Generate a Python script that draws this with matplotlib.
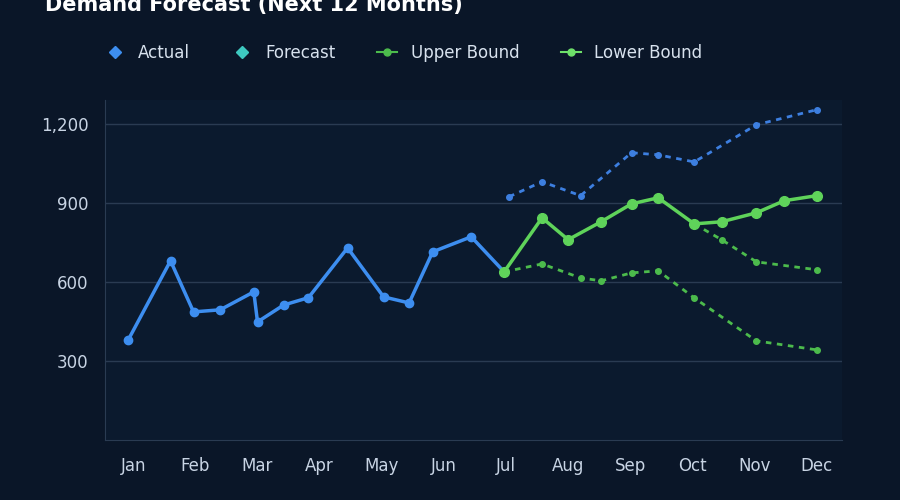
import matplotlib.pyplot as plt

months = ["Jan","Feb","Mar","Apr","May","Jun","Jul","Aug","Sep","Oct","Nov","Dec"]
act_x = [-0.08,0.6,0.97,1.4,1.94,2.0,2.42,2.82,3.45,4.03,4.44,4.82,5.44,5.97]
act_y = [380,680,486,494,562,448,512,540,729,543,520,714,771,638]
fc_x = [5.97,6.58,7.0,7.53,8.02,8.45,9.03,9.47,10.03,10.48,11.0]
fc_y = [638,843,760,828,896,919,820,828,862,908,927]
up_x = [6.05,6.58,7.2,8.02,8.45,9.03,10.03,11.0]
up_y = [923,980,927,1090,1082,1055,1196,1253]
lo_x = [5.97,6.58,7.2,7.53,8.02,8.45,9.03,10.03,11.0]
lo_y = [638,668,615,604,634,642,539,376,342]
lo2_x = [9.03,9.47,10.03,11.0]
lo2_y = [820,760,676,646]

bg = "#0b1a2e"
fig = plt.figure(figsize=(9,5), dpi=100, facecolor="#08111f")
ax = fig.add_axes([0.117,0.12,0.818,0.68], facecolor=bg)
fig.patch.set_facecolor("#0a1628")
ax.plot(act_x, act_y, color="#3d8ef0", lw=2.5, marker="o", ms=6)
ax.plot(up_x, up_y, color="#3d7fe0", lw=2, ls=(0,(2,2)), marker="o", ms=4)
ax.plot(lo_x, lo_y, color="#4cbb4c", lw=2, ls=(0,(2,2)), marker="o", ms=4)
ax.plot(lo2_x, lo2_y, color="#4cbb4c", lw=2, ls=(0,(2,2)), marker="o", ms=4)
ax.plot(fc_x, fc_y, color="#5fd35a", lw=2.5, marker="o", ms=7)
ax.set_xlim(-0.45,11.4); ax.set_ylim(0,1290)
ax.set_xticks(range(12)); ax.set_xticklabels(months)
ax.set_yticks([300,600,900,1200]); ax.set_yticklabels(["300","600","900","1,200"])
ax.tick_params(colors="#c8d4e4", labelsize=12, length=0, pad=12)
ax.grid(axis="y", color="#2a3b52", lw=1)
for s in ["top","right"]: ax.spines[s].set_visible(False)
for s in ["left","bottom"]: ax.spines[s].set_color("#2a3b52")
fig.text(0.05,0.99,"Demand Forecast (Next 12 Months)", color="white", fontsize=15, fontweight="bold", va="center")
from matplotlib.lines import Line2D
h = [Line2D([],[],color="#3d8ef0",marker="D",ls="",ms=6),
     Line2D([],[],color="#3ec9c0",marker="D",ls="",ms=6),
     Line2D([],[],color="#4cbb4c",marker="o",ls="-",ms=5),
     Line2D([],[],color="#6ee06a",marker="o",ls="-",ms=5)]
fig.legend(h,["Actual","Forecast","Upper Bound","Lower Bound"], loc="center left", bbox_to_anchor=(0.1,0.895),
           ncol=4, frameon=False, labelcolor="#d8e2ee", fontsize=12, handlelength=1.2, columnspacing=2.5)
fig.savefig("out.png", facecolor=fig.get_facecolor())
